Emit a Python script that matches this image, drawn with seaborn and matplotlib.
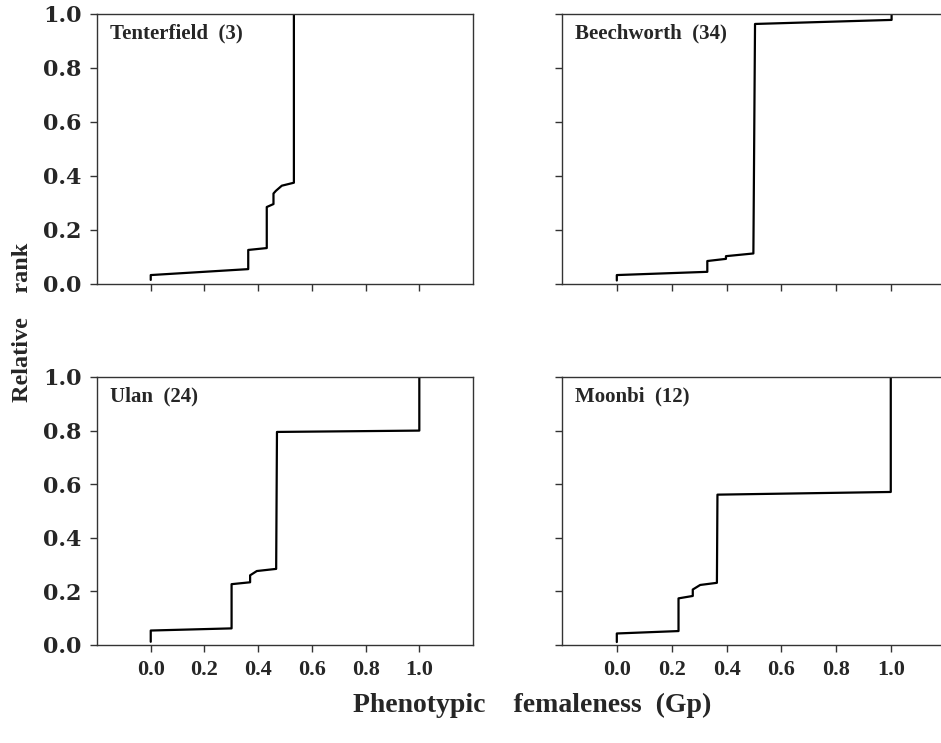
import matplotlib
matplotlib.use("Agg")
import matplotlib.pyplot as plt
import seaborn as sns
import pandas as pd

# site names with sample sizes
sites = ["Tenterfield", "Beechworth", "Ulan", "Moonbi"]
sizes = [3, 34, 24, 12]

# step curves (Gp, relative rank)
tent_x = [0, 0, 0.363, 0.363, 0.432, 0.432, 0.457, 0.457, 0.466, 0.488, 0.533, 0.533]
tent_y = [0.015, 0.033, 0.055, 0.126, 0.133, 0.285, 0.296, 0.335, 0.345, 0.364, 0.375, 1.0]

beech_x = [0, 0, 0.33, 0.33, 0.398, 0.398, 0.498, 0.504, 1.002, 1.002]
beech_y = [0.013, 0.033, 0.045, 0.085, 0.093, 0.103, 0.113, 0.963, 0.978, 1.0]

ulan_x = [0, 0, 0.301, 0.301, 0.37, 0.37, 0.395, 0.467, 0.47, 1.0, 1.0]
ulan_y = [0.012, 0.054, 0.062, 0.227, 0.234, 0.26, 0.276, 0.284, 0.795, 0.80, 1.0]

moon_x = [0, 0, 0.225, 0.225, 0.277, 0.277, 0.304, 0.365, 0.367, 0.999, 0.999]
moon_y = [0.011, 0.043, 0.052, 0.174, 0.183, 0.207, 0.224, 0.232, 0.561, 0.571, 1.0]

curves = [(tent_x, tent_y), (beech_x, beech_y), (ulan_x, ulan_y), (moon_x, moon_y)]

ticks = [0.0, 0.2, 0.4, 0.6, 0.8, 1.0]
tick_labels = ["0.0", "0.2", "0.4", "0.6", "0.8", "1.0"]

sns.set_style("ticks")
plt.rcParams["font.family"] = ["Liberation Serif", "DejaVu Serif"]
plt.rcParams["font.weight"] = "bold"

fig = plt.figure(figsize=(9.41, 7.43), dpi=100)

# axes boxes in figure fractions [left, bottom, width, height]
boxes = [
    [0.1031, 0.6178, 0.3996, 0.3634],
    [0.5972, 0.6178, 0.4080, 0.3634],
    [0.1031, 0.1319, 0.3996, 0.3607],
    [0.5972, 0.1319, 0.4080, 0.3607],
]

for i, (name, n, (xs, ys), box) in enumerate(zip(sites, sizes, curves, boxes)):
    ax = fig.add_axes(box)
    df = pd.DataFrame({"Gp": xs, "rank": ys})
    sns.lineplot(data=df, x="Gp", y="rank", sort=False, estimator=None,
                 color="black", linewidth=1.6, ax=ax)
    ax.set_xlim(-0.2, 1.2)
    ax.set_ylim(0, 1.0)
    ax.set_xticks(ticks)
    ax.set_yticks(ticks)
    ax.set_xlabel("")
    ax.set_ylabel("")
    for sp in ax.spines.values():
        sp.set_visible(True)
        sp.set_linewidth(1.0)
        sp.set_color("#333333")
    ax.tick_params(direction="out", length=5, width=1.0, color="#333333", pad=6)
    if i < 2:
        ax.set_xticklabels([])
    else:
        ax.set_xticklabels(tick_labels, fontweight="bold", fontsize=16)
    if i % 2 == 1:
        ax.set_yticklabels([])
    else:
        # the scanned y labels are much wider than the x labels
        ax.set_yticklabels(tick_labels, fontweight="bold", fontsize=16,
                           family=["DejaVu Serif"])
    ax.text(0.035, 0.965, f"{name}  ({n})", transform=ax.transAxes,
            ha="left", va="top", fontsize=15, fontweight="bold")

fig.text(0.024, 0.566, "Relative    rank", rotation=90, ha="center", va="center",
         fontsize=17.5, fontweight="bold")
fig.text(0.566, 0.05, "Phenotypic    femaleness  (Gp)", ha="center", va="center",
         fontsize=20, fontweight="bold")

fig.savefig("out.png", dpi=100)
